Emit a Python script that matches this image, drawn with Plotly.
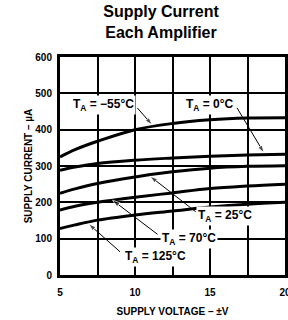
import plotly.graph_objects as go

# Data
voltage = [5, 6, 7.5, 10, 12.5, 15, 17.5, 20]
i_m55 = [325, 345, 368, 400, 417, 427, 432, 433]
i_0 = [288, 297, 307, 316, 322, 327, 330, 332]
i_25 = [225, 237, 252, 270, 284, 294, 299, 301]
i_70 = [179, 189, 200, 214, 226, 238, 245, 250]
i_125 = [128, 138, 151, 165, 176, 187, 195, 200]

series_names = ["T_A = -55°C", "T_A = 0°C", "T_A = 25°C", "T_A = 70°C", "T_A = 125°C"]
series_values = [i_m55, i_0, i_25, i_70, i_125]

x_tickvals = [5, 10, 15, 20]
x_minor_gridvals = [7.5, 12.5, 17.5]
y_tickvals = [0, 100, 200, 300, 400, 500, 600]

# Labels: (text, text x, text y, leader tail x, tail y, arrow head x, head y)
labels = [
    ("T<sub>A</sub> = \u221255°C", 7.9, 468, 10.15, 460, 11.15, 413),
    ("T<sub>A</sub> = 0°C", 15.0, 468, 16.8, 460, 18.6, 336),
    ("T<sub>A</sub> = 25°C", 16.0, 163, 14.05, 174, 11.0, 272),
    ("T<sub>A</sub> = 70°C", 13.6, 98, 11.5, 112, 8.5, 206),
    ("T<sub>A</sub> = 125°C", 11.35, 50, 9.0, 64, 6.9, 141),
]

FONT = "Liberation Sans, Arial, Helvetica, sans-serif"

fig = go.Figure()
for name, vals in zip(series_names, series_values):
    fig.add_trace(go.Scatter(x=voltage, y=vals, mode="lines", name=name,
                             line=dict(color="black", width=3, shape="spline"),
                             showlegend=False, hoverinfo="skip"))

annotations = []
for text, tx, ty, ax, ay, hx, hy in labels:
    fig.add_trace(go.Scatter(x=[ax, hx], y=[ay, hy], mode="lines+markers",
                             line=dict(color="black", width=1),
                             marker=dict(symbol="arrow", angleref="previous",
                                         size=[0, 8], color="black"),
                             showlegend=False, hoverinfo="skip"))
    annotations.append(dict(x=tx, y=ty, xref="x", yref="y", text=text,
                            showarrow=False, bgcolor="white", borderpad=1,
                            font=dict(family=FONT, size=12, color="black",
                                      weight="bold")))

fig.update_layout(
    width=288, height=320,
    margin=dict(l=60, r=3, t=57, b=45),
    paper_bgcolor="white", plot_bgcolor="white",
    font=dict(family=FONT, color="black", size=10, weight="bold"),
    title=dict(text="Supply Current<br>Each Amplifier", x=0.559, xref="container",
               xanchor="center", y=0.947, yref="container", yanchor="top",
               font=dict(family=FONT, size=16, color="black", weight="bold")),
    annotations=annotations,
)

fig.update_xaxes(range=[5, 20], tickvals=x_tickvals,
                 showgrid=True, gridcolor="black", gridwidth=1.8,
                 minor=dict(tickvals=x_minor_gridvals, showgrid=True,
                            gridcolor="black", gridwidth=1.8, ticks=""),
                 showline=True, linecolor="black", linewidth=3, mirror=True,
                 zeroline=False, ticks="", ticklabelstandoff=6, automargin=False,
                 ticklabeloverflow="allow",
                 tickfont=dict(size=10, weight="bold"),
                 title=dict(text="SUPPLY VOLTAGE \u2013 \u00b1V", standoff=11,
                            font=dict(size=10, weight="bold")))
fig.update_yaxes(range=[0, 600], tickvals=y_tickvals,
                 showgrid=True, gridcolor="black", gridwidth=1.8,
                 showline=True, linecolor="black", linewidth=3, mirror=True,
                 zeroline=False, ticks="", ticklabelstandoff=3, automargin=False,
                 tickfont=dict(size=10, weight="bold"),
                 title=dict(text="SUPPLY CURRENT \u2013 \u00b5A", standoff=1,
                            font=dict(size=10, weight="bold")))

fig.write_html("out.html", config={"displayModeBar": False},
               post_script="document.body.style.margin='0';")
